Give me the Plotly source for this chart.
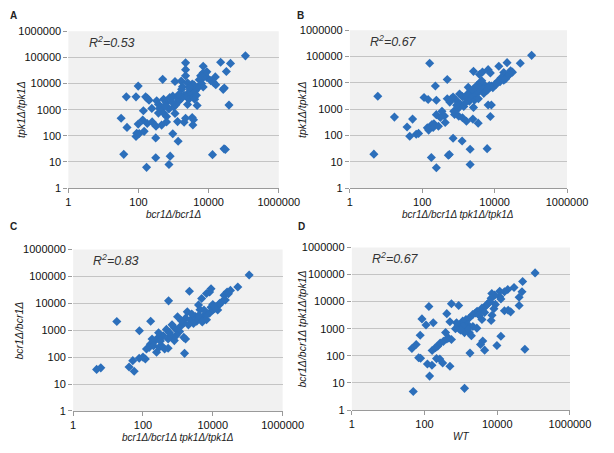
import plotly.graph_objects as go

# Panel A: x = bcr1Δ/bcr1Δ, y = tpk1Δ/tpk1Δ
a_x = [112000, 22000, 42000, 2200, 2200, 7000, 32000, 2200, 5900, 7800, 8900, 7000, 5400, 15500, 11500,
       13800, 16000, 7000, 5400, 28000, 26000, 490, 1100, 1660, 1800, 1700, 2500, 3400, 3000, 2700,
       98, 45, 85, 178, 160, 200, 330, 370, 520, 630, 780, 950, 740, 1000, 1170,
       1380, 240, 138, 440, 370, 520, 630, 1100, 1300, 2000, 2200, 3400, 3700, 3550, 4700,
       38000, 32, 47, 98, 132, 178, 245, 316, 457, 630, 89, 85, 105, 145, 310,
       950, 1350, 38, 310, 800, 740, 170, 12900, 27500, 30000, 2000, 2400, 2800, 3300, 3800,
       4200, 4500, 1600, 1260, 1400, 5000, 6300, 3800, 2800, 890, 400, 7000, 8900, 560, 4000, 2500]
a_y = [115000, 65000, 59000, 62000, 34000, 46000, 29000, 20000, 20000, 23000, 17000, 16600, 14000, 18000, 13000,
       11000, 9000, 7400, 8000, 6800, 6000, 14500, 12000, 12600, 7600, 6000, 10700, 9500, 5750, 4500,
       8000, 3100, 3100, 2750, 3100, 2300, 2200, 1600, 2500, 1850, 2900, 3300, 1070, 1260, 1550,
       2100, 1120, 910, 1150, 740, 740, 550, 720, 350, 330, 470, 500, 410, 260, 1450,
       1500, 470, 210, 280, 400, 295, 340, 234, 257, 340, 126, 95, 123, 148, 83,
       120, 62, 19.5, 14.5, 16.6, 8, 6.2, 19, 31.6, 30, 3550, 3000, 2600, 4000, 2900,
       5250, 3550, 2500, 2800, 3800, 7100, 10000, 8900, 7100, 2000, 1120, 26000, 28000, 1400, 2500, 1580]

# Panel B: x = bcr1Δ/bcr1Δ tpk1Δ/tpk1Δ, y = tpk1Δ/tpk1Δ
b_x = [105000, 160, 51000, 22000, 13000, 490, 2600, 3800, 4600, 6600, 7600, 17800, 27500, 31000, 22400,
       15000, 12300, 10000, 8100, 6600, 230, 5.9, 112, 145, 245, 490, 575, 710, 870, 1070,
       1290, 1580, 1860, 2200, 1780, 2400, 2950, 3600, 4400, 4900, 5400, 3200, 4000, 4400, 6600,
       8100, 7600, 2600, 3500, 2500, 1660, 1290, 1020, 780, 740, 910, 245, 350, 410, 430,
       316, 17, 54, 38, 45, 79, 68, 150, 170, 186, 210, 280, 138, 710, 1260,
       2100, 6200, 525, 560, 178, 245, 2100, 4.6, 1120, 1400, 2000, 2800, 5000, 6000, 8900,
       11200, 14100, 17800, 20000, 25000, 3550, 1580, 1000, 630, 7100, 2500, 890, 200]
b_y = [112000, 56000, 56000, 59000, 43000, 13500, 27500, 21000, 26000, 32000, 24000, 25000, 29000, 25700, 17800,
       15500, 11500, 8700, 7600, 5750, 7600, 3100, 2800, 2350, 2200, 2500, 1860, 2900, 2200, 3800,
       3000, 2900, 6800, 5000, 3800, 2900, 3800, 4500, 6800, 9100, 5900, 7900, 10500, 12000, 1450,
       1450, 525, 1170, 295, 420, 350, 470, 540, 630, 830, 980, 620, 830, 550, 310,
       480, 500, 420, 210, 93, 120, 112, 160, 225, 263, 280, 225, 195, 78, 62,
       30, 31.6, 17.8, 19, 14.5, 5.9, 7.9, 19.5, 1580, 1260, 2000, 2240, 4000, 5000, 6600,
       8900, 11200, 12600, 14100, 20000, 2500, 1780, 1120, 2500, 7900, 5600, 1400, 200]

# Panel C: x = bcr1Δ/bcr1Δ tpk1Δ/tpk1Δ, y = bcr1Δ/bcr1Δ
c_x = [110000, 52000, 32000, 25700, 21000, 8900, 8100, 6600, 2140, 4800, 3900, 4300, 540, 17.8, 166,
       79, 1860, 980, 1660, 2300, 3160, 3470, 4800, 5900, 6600, 8100, 10000, 12300, 15100, 18600,
       22900, 13800, 470, 575, 790, 980, 1200, 1480, 650, 525, 790, 1480, 1660, 380, 275,
       224, 182, 162, 151, 200, 290, 340, 417, 525, 245, 117, 51, 78, 40, 56,
       4.7, 6.2, 1550, 2800, 4000, 7100, 8900, 11200, 2000, 1120, 890, 316, 126, 5000, 15800,
       28000, 280, 2500, 1260, 680, 10000, 5600, 100]
c_y = [112000, 40000, 30000, 26300, 20000, 34700, 26300, 23000, 28000, 15100, 8700, 5750, 12300, 2100, 2140,
       950, 4800, 3160, 2800, 2450, 3240, 2140, 2800, 3700, 2450, 4300, 5600, 7600, 8700, 11500,
       13200, 5600, 1070, 810, 1230, 930, 1410, 1860, 620, 470, 410, 540, 470, 620, 540,
       410, 470, 300, 230, 263, 230, 263, 200, 214, 151, 85, 74, 91, 43, 30,
       35, 40, 138, 1780, 3550, 4000, 7100, 6300, 1580, 890, 630, 400, 200, 2000, 10000,
       22400, 800, 4000, 2240, 1580, 8900, 5600, 100]

# Panel D: x = WT, y = bcr1Δ/bcr1Δ tpk1Δ/tpk1Δ
d_x = [110000, 50000, 48000, 29000, 40000, 40000, 19500, 15800, 11700, 11700, 8500, 7100, 6800, 6300, 5750,
       5100, 4700, 3800, 3470, 2800, 2500, 2100, 1700, 1380, 1120, 1020, 830, 760, 910, 1260,
       1510, 1700, 1260, 15800, 23400, 20000, 8100, 7200, 6800, 3800, 2750, 2140, 132, 550, 870,
       410, 500, 174, 85, 110, 380, 457, 550, 1950, 4000, 3470, 4500, 1780, 12600, 9800,
       57500, 76, 45, 59, 162, 230, 270, 330, 410, 78, 120, 214, 263, 316, 500,
       138, 49, 1260, 1400, 1580, 1120, 1000, 200, 3160, 4500, 12600, 8900, 160, 710, 69]
d_y = [115000, 55000, 23000, 33000, 14500, 7200, 28000, 23000, 24000, 15100, 17400, 20000, 13200, 10000, 8700,
       7600, 6600, 5750, 4600, 4400, 3800, 3300, 2500, 2200, 1900, 1450, 1260, 1660, 950, 1100,
       1450, 720, 720, 4600, 4200, 4800, 5500, 3160, 2000, 2200, 1050, 1200, 6600, 8300, 7200,
       3600, 1800, 1660, 2300, 1380, 720, 457, 400, 550, 350, 263, 162, 126, 525, 240,
       174, 575, 186, 263, 158, 224, 295, 340, 417, 81, 50, 79, 76, 54, 41,
       17.8, 4.8, 6.3, 1120, 1000, 1260, 890, 200, 3160, 4000, 12600, 7900, 45, 1000, 85]

panels = [
    (a_x, a_y, "bcr1Δ/bcr1Δ", "tpk1Δ/tpk1Δ", "R<sup>2</sup>=0.53"),
    (b_x, b_y, "bcr1Δ/bcr1Δ tpk1Δ/tpk1Δ", "tpk1Δ/tpk1Δ", "R<sup>2</sup>=0.67"),
    (c_x, c_y, "bcr1Δ/bcr1Δ tpk1Δ/tpk1Δ", "bcr1Δ/bcr1Δ", "R<sup>2</sup>=0.83"),
    (d_x, d_y, "WT", "bcr1Δ/bcr1Δ tpk1Δ/tpk1Δ", "R<sup>2</sup>=0.67"),
]
letters = ["A", "B", "C", "D"]

x_tickvals = [1, 100, 10000, 1000000]
x_ticktext = ["1", "100", "10000", "1000000"]
y_tickvals = [1, 10, 100, 1000, 10000, 100000, 1000000]
y_ticktext = ["1", "10", "100", "1000", "10000", "100000", "1000000"]

W, H = 614, 453
# plot areas in pixels: (left, right, top, bottom)
boxes = [(68, 287, 26, 187), (361, 587, 25, 187), (73, 291, 250, 416), (363, 590, 248, 415)]
ytitle_x = [18, 311, 17, 311]

fig = go.Figure()
FONT = "Liberation Sans, Arial, sans-serif"
layout = dict(width=W, height=H, margin=dict(l=0, r=0, t=0, b=0, pad=0),
              paper_bgcolor="white", plot_bgcolor="white", showlegend=False,
              font=dict(family=FONT, color="#111111"))
annotations = []
shapes = []
for i, ((xs, ys, xt, yt, r2), box) in enumerate(zip(panels, boxes)):
    n = "" if i == 0 else str(i + 1)
    l, r, t, b = box
    xd = [l / W, r / W]
    yd = [1 - b / H, 1 - t / H]
    fig.add_trace(go.Scatter(x=xs, y=ys, mode="markers", xaxis="x" + n, yaxis="y" + n,
                             marker=dict(symbol="diamond", size=7, color="#2c6fbb",
                                         line=dict(width=0))))
    shapes.append(dict(type="rect", xref="paper", yref="paper", x0=xd[0], x1=xd[1], y0=yd[0], y1=yd[1],
                       fillcolor="#f1f1f1", line=dict(width=0), layer="below"))
    layout["xaxis" + n] = dict(domain=xd, type="log", range=[0, 6], anchor="y" + n,
                               tickvals=x_tickvals, ticktext=x_ticktext, showgrid=False,
                               showline=True, linecolor="#9a9a9a", linewidth=1,
                               ticks="outside", ticklen=4, tickcolor="#9a9a9a",
                               tickfont=dict(size=11, family=FONT, color="#111111"),
                               zeroline=False, fixedrange=True)
    layout["yaxis" + n] = dict(domain=yd, type="log", range=[0, 6], anchor="x" + n,
                               tickvals=y_tickvals, ticktext=y_ticktext, showgrid=True,
                               gridcolor="#c4c4c4", gridwidth=1, showline=False,
                               ticks="outside", ticklen=4, tickcolor="#9a9a9a",
                               tickfont=dict(size=11, family=FONT, color="#111111"),
                               zeroline=False, fixedrange=True)
    # axis titles
    annotations.append(dict(text="<i>" + xt + "</i>", xref="paper", yref="paper",
                            x=(l + r) / 2 / W, y=1 - (b + 27) / H, xanchor="center", yanchor="middle",
                            showarrow=False, borderpad=0,
                            font=dict(size=10, color="#1a1a1a", family=FONT)))
    annotations.append(dict(text="<i>" + yt + "</i>", xref="paper", yref="paper", textangle=-90,
                            x=ytitle_x[i] / W, y=1 - (t + b) / 2 / H, xanchor="center", yanchor="middle",
                            showarrow=False, borderpad=0,
                            font=dict(size=10.5, color="#1a1a1a", family=FONT)))
    annotations.append(dict(text="<i>" + r2 + "</i>", xref="paper", yref="paper",
                            x=(l + 19) / W, y=1 - (t + 11) / H, xanchor="left", yanchor="middle",
                            showarrow=False, font=dict(size=12.5, color="#333333", family=FONT)))

letter_pos = [(5, 10), (304, 10), (5, 226), (305, 226)]
for L, (px, py) in zip(letters, letter_pos):
    annotations.append(dict(text="<b>" + L + "</b>", xref="paper", yref="paper",
                            x=px / W, y=1 - py / H, xanchor="left", yanchor="middle",
                            showarrow=False, font=dict(size=10, color="#222222", family=FONT)))

layout["annotations"] = annotations
layout["shapes"] = shapes
fig.update_layout(**layout)
fig.write_html("out.html", config={"displayModeBar": False},
               post_script="document.body.style.margin='0';document.body.style.overflow='hidden';")
